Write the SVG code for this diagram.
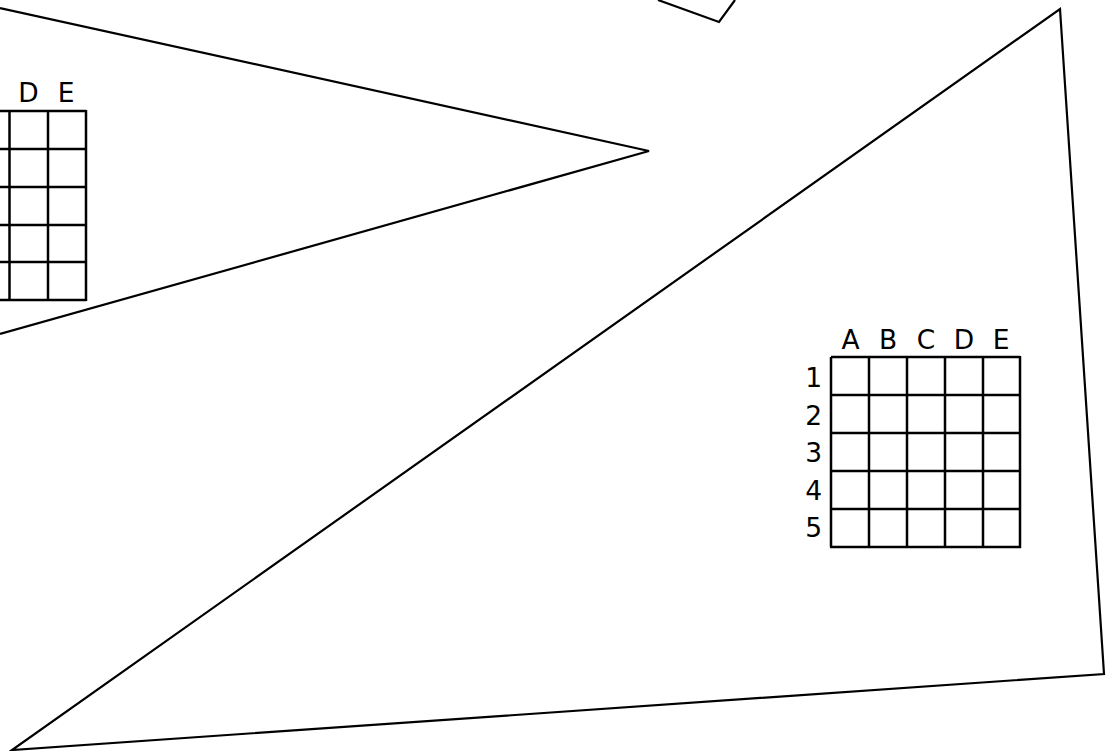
<svg xmlns="http://www.w3.org/2000/svg" width="1109" height="751" viewBox="0 0 1109 751">
<style>
.s{fill:none;stroke:#000;stroke-width:2.2;stroke-linejoin:miter}
.g{fill:none;stroke:#000;stroke-width:2.5}
.t{font-family:"DejaVu Sans",Verdana,sans-serif;font-size:26.5px;fill:#000}
.c{text-anchor:middle}
.r{text-anchor:end}
</style>
<rect width="1109" height="751" fill="#fff"/>
<g id="top-shape"><polyline class="s" points="658,0 719,22 735,0"/></g>
<g id="left-triangle"><polyline class="s" points="0,8 649,151 0,334"/></g>
<g id="big-triangle"><polygon class="s" points="1060,9 1104,674 12,750"/></g>
<g id="left-grid">
<path class="g" d="M0,111H86M0,149H86M0,187H86M0,225H86M0,262H86M0,300H86M9.5,111V300M48,111V300M86,110V301"/>
<text class="t c" x="28.5" y="102">D</text>
<text class="t c" x="66" y="102">E</text>
</g>
<g id="right-grid">
<path class="g" d="M831,357H1020M831,395H1020M831,433H1020M831,471H1020M831,509H1020M830,547H1021M831,357V547M869,357V547M907,357V547M945,357V547M983,357V547M1020,356V548"/>
<text class="t c" x="850.5" y="349">A</text>
<text class="t c" x="888" y="349">B</text>
<text class="t c" x="926" y="349">C</text>
<text class="t c" x="964" y="349">D</text>
<text class="t c" x="1001" y="349">E</text>
<text class="t r" x="822" y="387">1</text>
<text class="t r" x="822" y="424.5">2</text>
<text class="t r" x="822" y="462">3</text>
<text class="t r" x="822" y="499.5">4</text>
<text class="t r" x="822" y="537">5</text>
</g>
</svg>
